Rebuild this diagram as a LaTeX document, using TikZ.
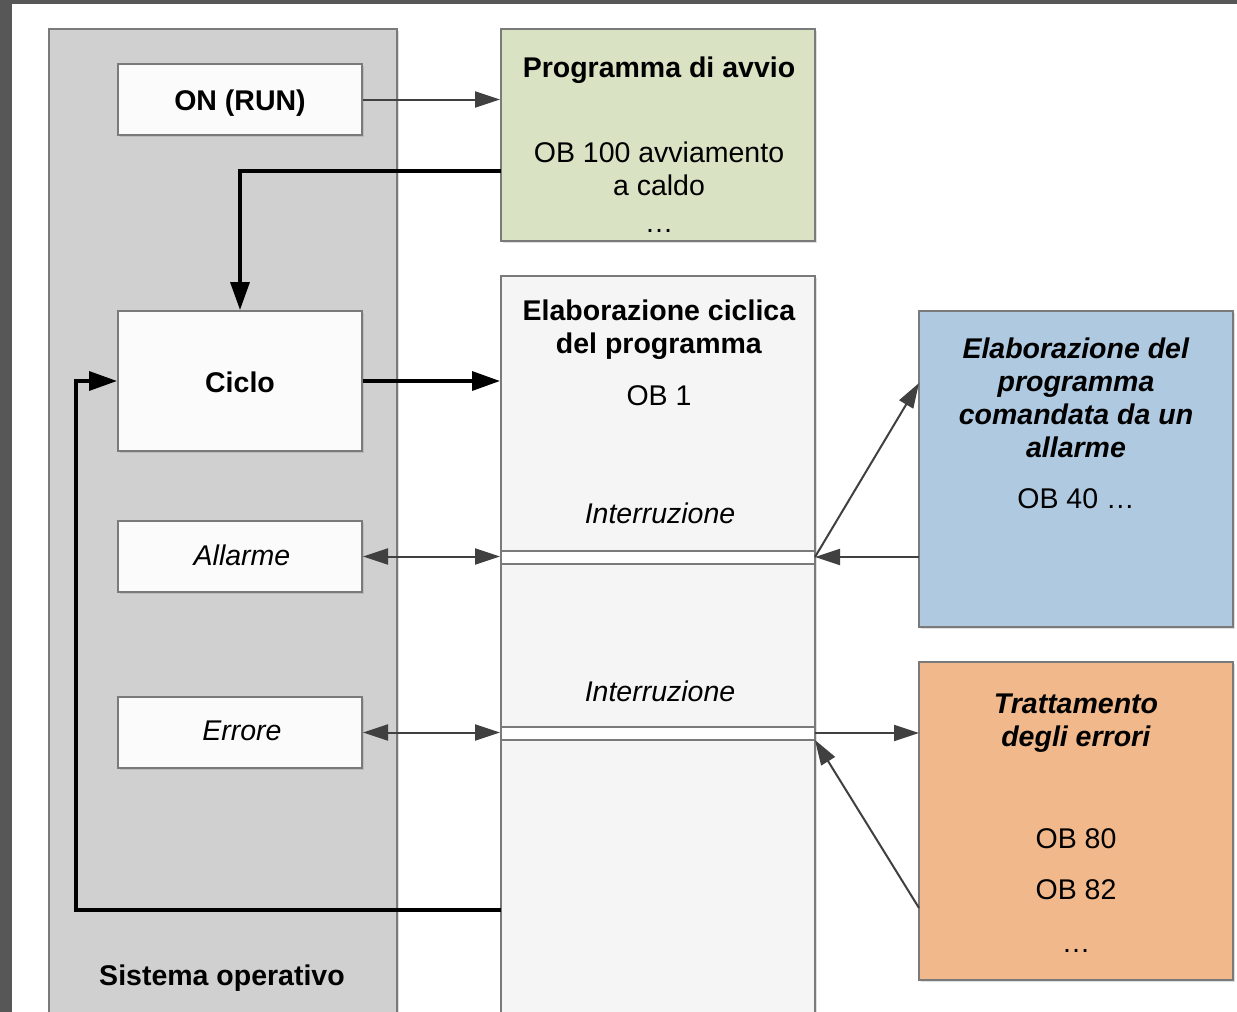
\documentclass[tikz,border=0pt]{standalone}
\usepackage{fontspec}
\setmainfont{Liberation Sans}
\usetikzlibrary{arrows.meta,shadows}
\definecolor{frameC}{HTML}{575757}
\definecolor{osC}{HTML}{D0D0D0}
\definecolor{lineC}{HTML}{7A7A7A}
\definecolor{whiteC}{HTML}{FBFBFB}
\definecolor{colC}{HTML}{F5F5F5}
\definecolor{greenC}{HTML}{D9E3C4}
\definecolor{blueC}{HTML}{AFC9E0}
\definecolor{orangeC}{HTML}{F0B88B}
\definecolor{arrC}{HTML}{404040}
\begin{document}
\begin{tikzpicture}[x=1pt,y=-1pt,
  boxst/.style={draw=lineC,line width=2pt,inner sep=0pt,
    drop shadow={shadow xshift=2pt,shadow yshift=-2pt,opacity=0.25}},
  txt/.style={font=\fontsize{28.5}{33}\selectfont,anchor=base,inner sep=0pt,align=center},
  thinar/.style={draw=arrC,line width=2pt,-{Triangle[length=25pt,width=16pt]}},
  dblar/.style={draw=arrC,line width=2pt,{Triangle[length=25pt,width=16pt]}-{Triangle[length=25pt,width=16pt]}},
  thickar/.style={draw=black,line width=3.5pt,-{Triangle[length=28pt,width=19pt]}},
]
\useasboundingbox (0,0) rectangle (1237,1012);
\clip (0,0) rectangle (1237,1012);
\fill[frameC] (0,0) rectangle (1237,1012);
\fill[white] (12,4) rectangle (1237,1012);

% boxes
\node[boxst,fill=osC,minimum width=348pt,minimum height=1001pt] (os) at (223,529.5) {};
\node[boxst,fill=greenC,minimum width=314pt,minimum height=212pt] (green) at (658,135) {};
\node[boxst,fill=colC,minimum width=314pt,minimum height=754pt] (col) at (658,653) {};
\node[boxst,fill=blueC,minimum width=314pt,minimum height=316pt] (blue) at (1076,469) {};
\node[boxst,fill=orangeC,minimum width=314pt,minimum height=318pt] (orange) at (1076,821) {};

\node[boxst,fill=whiteC,minimum width=244pt,minimum height=71pt] (on) at (240,99.5) {};
\node[boxst,fill=whiteC,minimum width=244pt,minimum height=140pt] (ciclo) at (240,381) {};
\node[boxst,fill=whiteC,minimum width=244pt,minimum height=71pt] (allarme) at (240,556.5) {};
\node[boxst,fill=whiteC,minimum width=244pt,minimum height=71pt] (errore) at (240,732.5) {};

% interrupt bands
\node[draw=lineC,line width=2pt,fill=white,inner sep=0pt,minimum width=314pt,minimum height=13pt] (band1) at (658,557.5) {};
\node[draw=lineC,line width=2pt,fill=white,inner sep=0pt,minimum width=314pt,minimum height=13pt] (band2) at (658,733.5) {};

% texts (base anchor = baseline of last line)
\node[txt] (tOn) at (240,110) {\textbf{ON (RUN)}};
\node[txt] (tCiclo) at (240,392) {\textbf{Ciclo}};
\node[txt] (tAll) at (242,565) {\textit{Allarme}};
\node[txt] (tErr) at (242,740) {\textit{Errore}};
\node[txt] (tOs) at (222,985) {\textbf{Sistema operativo}};

\node[txt] (tG1) at (659,77) {\textbf{Programma di avvio}};
\node[txt] (tG2) at (659,195) {OB 100 avviamento\\a caldo};
\node[txt] (tG3) at (659,232) {…};

\node[txt] (tC1) at (659,353) {\textbf{Elaborazione ciclica}\\\textbf{del programma}};
\node[txt] (tC2) at (659,405) {OB 1};
\node[txt] (tC3) at (660,523) {\textit{Interruzione}};
\node[txt] (tC4) at (660,701) {\textit{Interruzione}};

\node[txt] (tB1) at (1076,457) {\textbf{\textit{Elaborazione del}}\\\textbf{\textit{programma}}\\\textbf{\textit{comandata da un}}\\\textbf{\textit{allarme}}};
\node[txt] (tB2) at (1076,508) {OB 40 …};

\node[txt] (tO1) at (1076,746) {\textbf{\textit{Trattamento}}\\\textbf{\textit{degli errori}}};
\node[txt] (tO2) at (1076,848) {OB 80};
\node[txt] (tO3) at (1076,899) {OB 82};
\node[txt] (tO4) at (1076,952) {…};

% connector points
\coordinate (gout) at (501,171);
\coordinate (loopout) at (501,910);
\coordinate (bIn) at (919,557);
\coordinate (cA) at (815,557);
\coordinate (bTop) at (919,383);
\coordinate (cE) at (815,733);
\coordinate (oIn) at (919,733);
\coordinate (oLow) at (919,908);
\coordinate (cE2) at (815,740);

% connectors
\draw[thinar] (on.east) -- (green.west |- on.east);
\draw[thickar] (gout) -| (ciclo.north);
\draw[thickar] (ciclo.east) -- (col.west |- ciclo.east);
\draw[thickar] (loopout) -- ++(-425,0) |- (ciclo.west);
\draw[dblar] (allarme.east) -- (col.west |- allarme.east);
\draw[dblar] (errore.east) -- (col.west |- errore.east);
\draw[thinar] (bIn) -- (cA);
\draw[thinar] (cA) -- (bTop);
\draw[thinar] (cE) -- (oIn);
\draw[thinar] (oLow) -- (cE2);
\end{tikzpicture}
\end{document}
